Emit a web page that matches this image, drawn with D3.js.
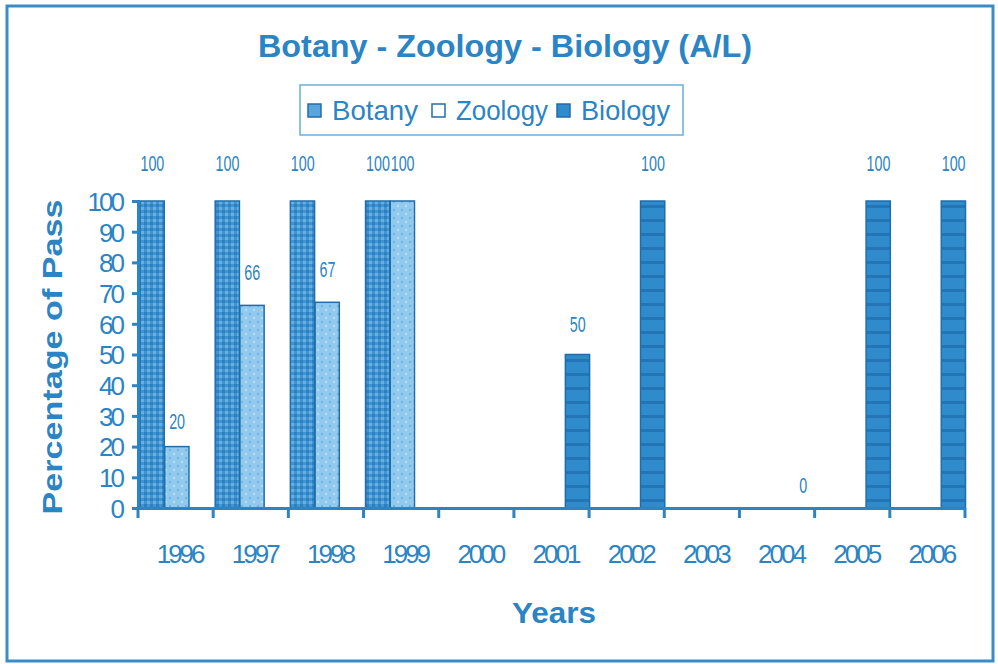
<!DOCTYPE html>
<html>
<head>
<meta charset="utf-8">
<script src="https://cdn.jsdelivr.net/npm/d3@7"></script>
<style>
  body { margin: 0; background: #fff; }
  svg text { font-family: "Liberation Sans", Arial, sans-serif; }
</style>
</head>
<body>
<svg width="998" height="664"></svg>
<script>
// chart data
const years = ["1996", "1997", "1998", "1999", "2000", "2001", "2002", "2003", "2004", "2005", "2006"]
const seriesNames = ["Botany", "Zoology", "Biology"]
const botany  = [100, 100, 100, 100, null, null, null, null, null, null, null]
const zoology = [20, 66, 67, 100, null, null, null, null, null, null, null]
const biology = [null, null, null, null, null, 50, 100, null, 0, 100, 100]
const yTicks = [0, 10, 20, 30, 40, 50, 60, 70, 80, 90, 100]

const blue = "#2b84c4"
const edge = "#1f6dab"

let svg = d3.select("svg")

// patterns for the scanned-look fills
let defs = svg.append("defs")
let pB = defs.append("pattern").attr("id", "patBotany").attr("width", 6).attr("height", 6)
                .attr("patternUnits", "userSpaceOnUse")
pB.append("rect").attr("width", 6).attr("height", 6).attr("fill", "#3f95d2")
pB.append("rect").attr("width", 3).attr("height", 3).attr("fill", "#2c7fc0")
pB.append("rect").attr("x", 3).attr("y", 3).attr("width", 3).attr("height", 3).attr("fill", "#6aaee0")

let pZ = defs.append("pattern").attr("id", "patZoology").attr("width", 8).attr("height", 8)
                .attr("patternUnits", "userSpaceOnUse")
pZ.append("rect").attr("width", 8).attr("height", 8).attr("fill", "#92caed")
pZ.append("circle").attr("cx", 2).attr("cy", 2).attr("r", 1.2).attr("fill", "#6fb4e3")
pZ.append("circle").attr("cx", 6).attr("cy", 6).attr("r", 1.2).attr("fill", "#b4dcf4")

let pBi = defs.append("pattern").attr("id", "patBiology").attr("width", 10).attr("height", 14)
                .attr("patternUnits", "userSpaceOnUse")
pBi.append("rect").attr("width", 10).attr("height", 14).attr("fill", "#2f8bcb")
pBi.append("rect").attr("y", 9).attr("width", 10).attr("height", 3).attr("fill", "#2475b6")

const fills = { Botany: "url(#patBotany)", Zoology: "url(#patZoology)", Biology: "url(#patBiology)" }
const legendFills = { Botany: "#5aa6dc", Zoology: "#ffffff", Biology: "#2f8bcb" }

// outer frame
svg.append("rect")
   .attr("x", 7).attr("y", 6).attr("width", 986).attr("height", 655)
   .attr("fill", "none").attr("stroke", "#3a8cc8").attr("stroke-width", 3)

// scales
let x = d3.scaleBand().domain(years).range([138, 965]).padding(0)
let xs = d3.scaleBand().domain(seriesNames).range([2, x.bandwidth() + 1]).padding(0)
let y = d3.scaleLinear().domain([0, 100]).range([508, 201])

// title
svg.append("text")
   .text("Botany - Zoology - Biology (A/L)")
   .attr("x", 505).attr("y", 57)
   .attr("text-anchor", "middle")
   .attr("textLength", 494).attr("lengthAdjust", "spacingAndGlyphs")
   .style("font-size", "32px").style("font-weight", "bold")
   .attr("fill", blue)

// legend
let legend = svg.append("g")
legend.append("rect")
      .attr("x", 300).attr("y", 85).attr("width", 383).attr("height", 50)
      .attr("fill", "none").attr("stroke", "#6aaede").attr("stroke-width", 1.5)
const legendX = [308, 432, 557]
const legendW = [86, 92, 89]
seriesNames.forEach((s, i) => {
  legend.append("rect")
        .attr("x", legendX[i]).attr("y", 104).attr("width", 13).attr("height", 13)
        .attr("fill", legendFills[s]).attr("stroke", edge).attr("stroke-width", 1.5)
  legend.append("text")
        .text(s)
        .attr("x", legendX[i] + 24).attr("y", 120)
        .attr("textLength", legendW[i]).attr("lengthAdjust", "spacingAndGlyphs")
        .style("font-size", "28px")
        .attr("fill", blue)
})

// flatten rows
let rows = []
years.forEach((yr, i) => {
  rows.push({ year: yr, s: "Botany", v: botany[i] })
  rows.push({ year: yr, s: "Zoology", v: zoology[i] })
  rows.push({ year: yr, s: "Biology", v: biology[i] })
})
rows = rows.filter(d => d.v !== null)

// bars
svg.append("g").selectAll("rect")
   .data(rows.filter(d => d.v > 0))
   .enter()
   .append("rect")
   .attr("x", d => x(d.year) + xs(d.s))
   .attr("y", d => y(d.v))
   .attr("width", xs.bandwidth() - 0.5)
   .attr("height", d => y(0) - y(d.v))
   .attr("fill", d => fills[d.s])
   .attr("stroke", edge).attr("stroke-width", 1.5)

// value labels (narrow digits like the scan)
svg.append("g").selectAll("text")
   .data(rows)
   .enter()
   .append("text")
   .text(d => d.v)
   .attr("transform", d => {
     let cx = x(d.year) + xs(d.s) + xs.bandwidth() / 2
     let cy = y(d.v) - 15 - d.v * 0.15
     return `translate(${cx},${cy}) scale(0.65,1)`
   })
   .attr("text-anchor", "middle")
   .style("font-size", "22px")
   .attr("fill", blue)

// y axis
let yAxis = svg.append("g")
   .attr("transform", "translate(138,0)")
   .call(d3.axisLeft(y).tickValues(yTicks).tickSize(6).tickPadding(10))
yAxis.select(".domain").attr("stroke", blue).attr("stroke-width", 3)
yAxis.selectAll(".tick line").attr("stroke", blue).attr("stroke-width", 3)
yAxis.selectAll(".tick text")
     .attr("fill", blue)
     .style("font-size", "26px")
     .style("letter-spacing", "-3px")
     .attr("dy", "0.36em")

// x axis
let xAxis = svg.append("g")
   .attr("transform", "translate(0,508)")
   .call(d3.axisBottom(x).tickSize(0).tickPadding(0))
xAxis.select(".domain").attr("stroke", blue).attr("stroke-width", 3)
xAxis.selectAll(".tick text")
     .attr("fill", blue)
     .attr("y", 37)
     .attr("dx", 4)
     .style("font-size", "26px")
     .style("letter-spacing", "-3px")
// boundary tick marks between year groups
svg.append("g").selectAll("line")
   .data(years.concat(["end"]))
   .enter()
   .append("line")
   .attr("x1", (d, i) => i < years.length ? x(d) : x.range()[1])
   .attr("x2", (d, i) => i < years.length ? x(d) : x.range()[1])
   .attr("y1", 508).attr("y2", 518)
   .attr("stroke", blue).attr("stroke-width", 3)

// axis titles
svg.append("text")
   .text("Percentage of Pass")
   .attr("transform", "translate(62,357) rotate(-90)")
   .attr("text-anchor", "middle")
   .attr("textLength", 315).attr("lengthAdjust", "spacingAndGlyphs")
   .style("font-size", "28px").style("font-weight", "bold")
   .attr("fill", blue)

svg.append("text")
   .text("Years")
   .attr("x", 554).attr("y", 623)
   .attr("text-anchor", "middle")
   .attr("textLength", 84).attr("lengthAdjust", "spacingAndGlyphs")
   .style("font-size", "30px").style("font-weight", "bold")
   .attr("fill", blue)
</script>
</body>
</html>
